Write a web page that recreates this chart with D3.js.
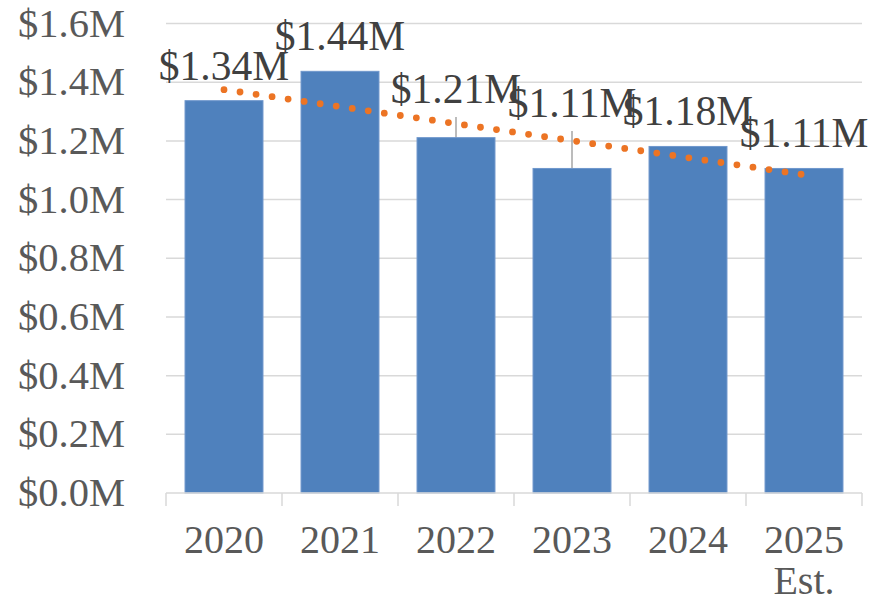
<!DOCTYPE html>
<html>
<head>
<meta charset="utf-8">
<script src="https://cdn.jsdelivr.net/npm/d3@7"></script>
<style>
  html, body { margin: 0; padding: 0; background: #ffffff; }
  svg { display: block; }
  text { font-family: "Liberation Serif", "Times New Roman", serif; }
</style>
</head>
<body>
<svg id="chart" width="888" height="603"></svg>
<script>
// ---- data ----
const categories = ["2020", "2021", "2022", "2023", "2024", "2025"];
const categorySubLabels = ["", "", "", "", "", "Est."];
const values = [1.337, 1.437, 1.211, 1.106, 1.181, 1.106];   // $M
const errorPlus = [0, 0, 0.07, 0.128, 0, 0];                  // $M, upper whisker
const yTicks = [0, 0.2, 0.4, 0.6, 0.8, 1.0, 1.2, 1.4, 1.6];

// ---- layout ----
const W = 888, H = 603;
const plot = { left: 166, right: 862, top: 23.5, bottom: 493 };
const svg = d3.select("#chart");

const x = d3.scaleBand().domain(categories).range([plot.left, plot.right]).padding(0);
const y = d3.scaleLinear().domain([0, 1.6]).range([plot.bottom, plot.top]);
const barW = x.bandwidth() * 0.672;
const fmtVal = v => "$" + d3.format(".2f")(v) + "M";
const fmtTick = v => "$" + d3.format(".1f")(v) + "M";

// gridlines
svg.append("g").selectAll("line").data(yTicks.filter(t => t > 0)).join("line")
  .attr("x1", plot.left).attr("x2", plot.right)
  .attr("y1", d => y(d)).attr("y2", d => y(d))
  .attr("stroke", "#d9d9d9").attr("stroke-width", 1.5);

// y tick labels
svg.append("g").selectAll("text").data(yTicks).join("text")
  .attr("x", 125).attr("y", d => y(d) + 13)
  .attr("text-anchor", "end")
  .attr("font-size", 40.5).attr("fill", "#595959")
  .text(fmtTick);

// error whiskers (upper)
svg.append("g").selectAll("line").data(categories.map((c, i) => ({c, v: values[i], e: errorPlus[i]})).filter(d => d.e > 0)).join("line")
  .attr("x1", d => x(d.c) + x.bandwidth() / 2).attr("x2", d => x(d.c) + x.bandwidth() / 2)
  .attr("y1", d => y(d.v)).attr("y2", d => y(d.v + d.e))
  .attr("stroke", "#a6a6a6").attr("stroke-width", 1.5);

// bars
svg.append("g").selectAll("rect").data(categories).join("rect")
  .attr("x", d => x(d) + (x.bandwidth() - barW) / 2)
  .attr("width", barW)
  .attr("y", (d, i) => y(values[i]))
  .attr("height", (d, i) => y(0) - y(values[i]))
  .attr("fill", "#4f81bd")
  .attr("stroke", "#6f97cc").attr("stroke-width", 1);

// x axis line + ticks
const axis = svg.append("g");
axis.append("line").attr("x1", plot.left).attr("x2", plot.right)
  .attr("y1", plot.bottom).attr("y2", plot.bottom)
  .attr("stroke", "#d9d9d9").attr("stroke-width", 1.5);
const boundaries = categories.map(c => x(c)).concat([x(categories[categories.length - 1]) + x.bandwidth()]);
axis.selectAll("line.tick").data(boundaries).join("line").attr("class", "tick")
  .attr("x1", d => d).attr("x2", d => d)
  .attr("y1", plot.bottom).attr("y2", plot.bottom + 13)
  .attr("stroke", "#d9d9d9").attr("stroke-width", 1.5);

// x labels
const xl = svg.append("g");
xl.selectAll("text.yr").data(categories).join("text").attr("class", "yr")
  .attr("x", d => x(d) + x.bandwidth() / 2).attr("y", 553)
  .attr("text-anchor", "middle").attr("font-size", 40).attr("fill", "#595959")
  .text(d => d);
xl.selectAll("text.sub").data(categories.filter((c, i) => categorySubLabels[i])).join("text").attr("class", "sub")
  .attr("x", d => x(d) + x.bandwidth() / 2).attr("y", 594)
  .attr("text-anchor", "middle").attr("font-size", 40).attr("fill", "#595959")
  .text(d => categorySubLabels[categories.indexOf(d)]);

// linear trendline (least squares over category index)
const n = values.length;
const idx = d3.range(n);
const mx = d3.mean(idx), my = d3.mean(values);
const slope = d3.sum(idx, i => (i - mx) * (values[i] - my)) / d3.sum(idx, i => (i - mx) ** 2);
const intercept = my - slope * mx;
const trend = [0, n - 1].map(i => ({ c: categories[i], v: intercept + slope * i }));
svg.append("path")
  .attr("d", d3.line().x(d => x(d.c) + x.bandwidth() / 2).y(d => y(d.v))(trend))
  .attr("fill", "none").attr("stroke", "#ec7424").attr("stroke-width", 6.8)
  .attr("stroke-linecap", "round").attr("stroke-dasharray", "0 16.2");

// data labels
svg.append("g").selectAll("text").data(categories).join("text")
  .attr("x", d => x(d) + x.bandwidth() / 2)
  .attr("y", (d, i) => Math.min(y(values[i]) - 21, y(values[i] + errorPlus[i]) - 14))
  .attr("text-anchor", "middle").attr("font-size", 41.5).attr("fill", "#404040")
  .text((d, i) => fmtVal(values[i]));
</script>
</body>
</html>
